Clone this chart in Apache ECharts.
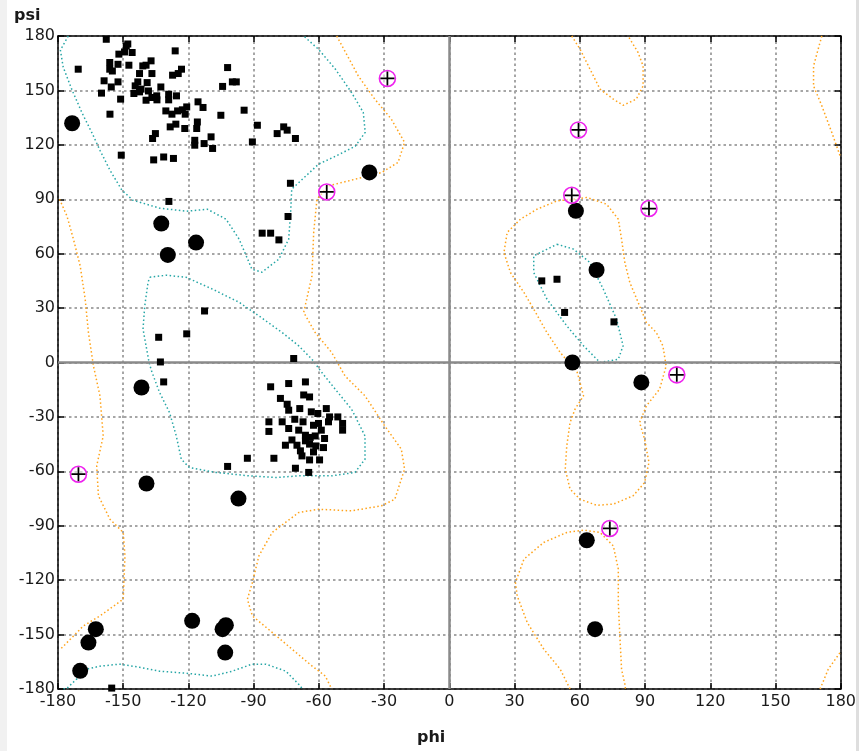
<!DOCTYPE html>
<html>
<head>
<meta charset="utf-8">
<script src="https://cdn.jsdelivr.net/npm/echarts@6/dist/echarts.min.js"></script>
<style>
  html, body { margin: 0; padding: 0; background: #fff; }
  #chart { width: 859px; height: 751px; }
</style>
</head>
<body>
<div id="chart"></div>
<script>
// axis ticks
const phiTicks = [-180, -150, -120, -90, -60, -30, 0, 30, 60, 90, 120, 150, 180];
const psiTicks = [-180, -150, -120, -90, -60, -30, 0, 30, 60, 90, 120, 150, 180];

// general residues (squares), [phi, psi]
const generalPts = [
  [-157.8, 178.2], [-148.6, 174.5], [-147.9, 175.6], [-152, 170], [-149.4, 171.2], [-145.9, 170.9],
  [-126.1, 171.8], [-170.7, 161.7], [-156.2, 165.4], [-156.2, 161.7], [-152.4, 164.4], [-147.4, 163.9],
  [-141, 163.5], [-139.5, 163.9], [-137.2, 166.3], [-142.5, 159.3], [-136.8, 159.3], [-155, 160.7],
  [-158.8, 155.3], [-152.4, 154.7], [-155.5, 151.9], [-160, 148.5], [-143.3, 154.7], [-139, 154.3],
  [-144.5, 152.5], [-141.8, 150.7], [-145.1, 148.3], [-142.5, 149.2], [-138.4, 149.7], [-132.7, 151.9],
  [-151.2, 145.2], [-139.5, 144.6], [-136.8, 146.1], [-134.6, 147], [-134.5, 144.8], [-129.1, 147.9],
  [-129.1, 144.8], [-125.5, 147], [-123.2, 161.7], [-127.3, 158.4], [-124.7, 159.3], [-115.6, 143.7],
  [-113.3, 140.6], [-130.4, 138.7], [-127.6, 136.9], [-125, 138.7], [-122.8, 139.3], [-120.8, 140.9],
  [-121.5, 136.9], [-128.4, 129.9], [-125.8, 131.4], [-121.7, 129], [-115.9, 132.6], [-116.2, 129],
  [-135.2, 126.2], [-136.5, 123.5], [-117.1, 122.5], [-112.8, 120.7], [-117.1, 119.8], [-150.9, 114.3],
  [-136, 111.7], [-131.4, 113.3], [-126.9, 112.5], [-156.1, 136.9], [-102, 162.6],
  [-104.3, 152.2], [-99.8, 154.7], [-98, 154.7], [-105.1, 136.3], [-94.4, 139.1], [-88.3, 130.8],
  [-79.2, 126.2], [-76.2, 129.9], [-74.6, 128.1], [-70.8, 123.5], [-90.6, 121.6], [-109.6, 124.4],
  [-108.9, 118], [-73.1, 98.8], [-129, 88.8], [-74.2, 80.5], [-86.1, 71.3], [-82.2, 71.3], [-78.4, 67.6],
  [-112.6, 28.4], [-133.7, 13.9], [-120.8, 15.8], [-132.9, 0.3], [-71.6, 2.2], [-131.4, -10.7],
  [-82.2, -13.4], [-73.9, -11.6], [-66.2, -10.7], [-67, -17.9], [-64.3, -19], [-77.7, -19.8],
  [-74.6, -23], [-73.9, -26.3], [-68.8, -25.4], [-63.5, -27.2], [-60.5, -28.1], [-56.6, -25.4],
  [-55.1, -30], [-51.3, -30], [-55.6, -32.7], [-49.1, -33.6], [-49.1, -37.3], [-83, -32.7],
  [-76.9, -32.7], [-71.1, -31.3], [-67.3, -32.7], [-83, -38], [-73.9, -36.4], [-69.3, -37.3],
  [-62.5, -34.6], [-60.2, -33.6], [-58.9, -37.3], [-66.2, -40.1], [-64, -41.3], [-61.7, -40.5],
  [-72.4, -42.7], [-66.2, -43.2], [-57.4, -41.9], [-75.4, -45.6], [-70.1, -45.6], [-64.3, -45],
  [-61.4, -46], [-57.9, -46.9], [-68.5, -48.7], [-67.8, -51.5], [-62.5, -49.3], [-92.9, -52.8],
  [-80.7, -52.8], [-64.3, -53.7], [-59.7, -53.7], [-70.8, -58.3], [-64.7, -60.6], [-102, -57.3],
  [-155.3, -179.5],
  [42.5, 45], [49.5, 45.9], [53, 27.6], [75.7, 22.4]
];

// glycine residues (large circles)
const glycinePts = [
  [-173.5, 131.9], [-36.8, 104.8], [-132.5, 76.6], [-116.5, 66.1], [-129.5, 59.3],
  [-141.6, -13.8], [-139.3, -66.7], [-97, -75], [-118.3, -142.4], [-104.3, -147],
  [-102.8, -144.8], [-103.1, -159.9], [-162.6, -147], [-166, -154.4], [-169.8, -170],
  [58.2, 83.6], [67.7, 51], [56.6, 0], [88.3, -11], [63.2, -98], [67, -147]
];

// outliers (magenta ring with cross)
const outlierPts = [
  [-28.5, 156.6], [-56.4, 94], [59.4, 128.2], [56.3, 92.2], [91.8, 84.9],
  [104.6, -6.8], [73.8, -91.5], [-170.6, -61.6]
];

// favoured region contours
const favBetaTop = [
  [-175.3, 180], [-178.9, 172.2], [-177.6, 162.8], [-173.5, 150.1], [-168.9, 137.5], [-164.3, 126.4],
  [-160.7, 117], [-156.1, 106], [-150.6, 95], [-145.6, 89.5], [-133.3, 85.1], [-120.9, 83.4],
  [-111.3, 84.5], [-102.7, 79], [-96.7, 68], [-90.8, 51.4], [-86.2, 49.8], [-78.4, 57],
  [-73.9, 68], [-73, 82.9], [-72.5, 95.6], [-66.1, 102.7], [-60.2, 109.3], [-52.4, 113.7],
  [-43.3, 119.2], [-38.7, 126.9], [-39.6, 137.9], [-45.1, 149], [-52.4, 161.7], [-60.2, 172.7], [-67, 180]
];
const favBetaBottom = [
  [-177.5, -180], [-175.7, -179.4], [-166.6, -169], [-160.7, -167.4], [-151.6, -166.3], [-142.5, -168],
  [-133.3, -170.2], [-120.9, -171.3], [-109.1, -172.9], [-99.9, -170.2], [-90.8, -166.3],
  [-84.4, -166.3], [-75.2, -170.2], [-69.3, -177.4], [-67.5, -180]
];
const favAlpha = [
  [-137.8, 47], [-130.2, 48.1], [-121.1, 47], [-108.9, 40.4], [-96.7, 33.2], [-87.6, 25.7],
  [-76.9, 16.5], [-69.3, 9.2], [-63.2, 1.8], [-58.8, -5.3], [-52.5, -14.7], [-45, -25.7],
  [-38.8, -40.5], [-38.8, -53.3], [-43.4, -60.6], [-54.1, -62.5], [-69.3, -62.5], [-79.9, -63.4],
  [-92.1, -62.5], [-107.4, -60.6], [-119.6, -57.9], [-123.3, -53.3], [-125.6, -40.5], [-128.7, -27.6],
  [-133.3, -16.5], [-137, -4.6], [-138.1, 0], [-140.9, 18.4], [-140.1, 31.2], [-138.6, 44.1], [-137.8, 47]
];
const favLeftHelix = [
  [49.5, 65.2], [57.1, 62.5], [64.7, 55.1], [70.8, 40.4], [76.9, 23.9], [79.9, 9.2], [77.7, 1.8],
  [69.3, 0], [61.7, 9.2], [54, 20.2], [44.9, 34.9], [38.8, 49.6], [38.8, 58.8], [49.5, 65.2]
];

// allowed region contours
const allowLeftEdge = [
  [-179.3, 90], [-175.9, 80.8], [-172.9, 68], [-169.8, 53.3], [-167.5, 34.9], [-166, 16.5],
  [-163.7, -1.9], [-160.7, -18.4], [-159.2, -40.5], [-162.2, -57], [-161.4, -73.5], [-156.1, -86.4],
  [-150, -93.7], [-149.2, -106.6], [-150, -130.5], [-160.7, -139.7], [-168.3, -145.2], [-178.9, -158.1]
];
const allowRightEdgeTop = [
  [171.3, 180], [167.5, 163.5], [167.5, 152.5], [171.3, 141.5], [175.9, 126.8], [179.7, 113.9]
];
const allowRightEdgeBottom = [
  [170.5, -180], [174.3, -169], [179.7, -159.9]
];
const allowMid = [
  [-51.8, 180], [-41.9, 158], [-34.3, 145.2], [-26.7, 134.2], [-20.6, 121.3], [-23.6, 110.3],
  [-31.2, 104.7], [-37.3, 102.9], [-46.5, 100.1], [-55.6, 97.4], [-60.9, 90], [-62.4, 71.7],
  [-63.2, 47.7], [-67, 27.6], [-61.7, 16.5], [-54.1, 5.5], [-48, -7.4], [-38.8, -18.4],
  [-29.7, -35], [-22.1, -47.8], [-20.6, -58.8], [-25.1, -75.4], [-31.2, -79], [-45, -81.8],
  [-60.2, -80.9], [-69.3, -82.7], [-81.5, -93.7], [-87.6, -106.6], [-90.6, -121.3], [-92.9, -130.5],
  [-90.6, -139.7], [-81.5, -148.8], [-72.4, -158], [-63.2, -167.3], [-57.1, -172.8], [-54.1, -180]
];
const allowTopBlob = [
  [56.3, 180], [60.1, 172.7], [64.7, 161.7], [69.3, 150.7], [75.4, 145.2], [79.9, 141.8],
  [86, 145.2], [89.1, 152.5], [89.1, 163.5], [86.8, 170.9], [82.2, 180]
];
const allowBottomBlob = [
  [55.5, -180], [54.8, -178.3], [51, -169.1], [43.4, -158], [35.8, -143.3], [31.2, -128.7],
  [30.4, -121.3], [34.3, -108.4], [43.4, -99.2], [54, -93.7], [61.7, -92.4], [69.3, -93.7],
  [75.4, -101.1], [77.7, -113.9], [77.7, -132.3], [78.4, -150.7], [79.2, -169.1], [80.7, -177.3], [81, -180]
];
const allowLeftHelix = [
  [57.1, 90], [63.2, 91], [72.3, 87.3], [77.7, 79], [79.2, 68], [80.7, 55.1], [83, 44.1],
  [87.5, 31.2], [90.6, 22.1], [95.2, 16.5], [98.2, 9.2], [99.7, -1.9], [96.7, -14.7], [90.6, -23.9],
  [87.5, -33.1], [89.8, -42.3], [91.8, -55.1], [89.8, -66.2], [84.5, -73.5], [75.4, -78.1],
  [67.7, -78.7], [60.1, -75.4], [55.5, -69.8], [53.3, -58.8], [54, -46], [55.5, -33.1],
  [57.8, -25.7], [61.7, -18.4], [60.1, -11], [58.6, -4.6], [56.3, -1.9], [51, 5.5], [44.9, 16.5],
  [38.8, 29.4], [34.3, 38.6], [28.1, 49.6], [25.1, 60.6], [26.6, 71.7], [32.7, 79], [40.3, 84.5],
  [49.5, 89.1], [57.1, 90]
];

const favColor = "#26a6a6";
const allowColor = "#ffa31a";

const chart = echarts.init(document.getElementById("chart"));

function contour(data, color) {
  return {
    type: "line",
    data: data,
    showSymbol: false,
    smooth: false,
    silent: true,
    z: 2,
    lineStyle: { color: color, width: 1.5, type: [1.5, 2.5] },
  };
}

const tickLabel = { fontSize: 16, color: "#1a1a1a", fontFamily: "DejaVu Sans" };
const gridLine = { show: true, lineStyle: { color: "#a6a6a6", width: 2, type: [2.5, 3] } };

function valueAxis(pos, showLabel, withGrid) {
  return {
    type: "value",
    position: pos,
    min: phiTicks[0],
    max: phiTicks[phiTicks.length - 1],
    interval: 30,
    axisLine: { show: true, onZero: false, lineStyle: { color: "#000", width: 1.5 } },
    axisTick: { show: true, inside: true, length: 6, lineStyle: { color: "#000", width: 1.5 } },
    axisLabel: Object.assign({ show: showLabel, margin: 5, hideOverlap: false }, tickLabel),
    splitLine: withGrid ? gridLine : { show: false },
  };
}

const xBottom = valueAxis("bottom", true, true);
xBottom.axisLabel.margin = 5;
const yLeft = valueAxis("left", true, true);
yLeft.min = psiTicks[0];
yLeft.max = psiTicks[psiTicks.length - 1];
yLeft.axisLabel.margin = 3;

chart.setOption({
  animation: false,
  backgroundColor: "#fff",
  grid: { left: 58, right: 13, top: 36, bottom: 62, containLabel: false },
  xAxis: [xBottom, valueAxis("top", false, false)],
  yAxis: [yLeft, valueAxis("right", false, false)],
  graphic: [
    { type: "rect", shape: { x: 0, y: 0, width: 7, height: 751 }, style: { fill: "#f1f1f1" }, z: 100 },
    { type: "rect", shape: { x: 856, y: 0, width: 3, height: 751 }, style: { fill: "#dedede" }, z: 100 },
    { type: "text", left: 14, top: 8, style: { text: "psi", font: "bold 16px DejaVu Sans", fill: "#1a1a1a" } },
    { type: "text", left: 417, top: 730, style: { text: "phi", font: "bold 16px DejaVu Sans", fill: "#1a1a1a" } },
  ],
  series: [
    {
      type: "line",
      data: [],
      silent: true,
      markLine: {
        silent: true,
        symbol: "none",
        label: { show: false },
        lineStyle: { color: "#8a8a8a", width: 2.5, type: "solid" },
        data: [{ xAxis: 0 }, { yAxis: 0 }],
      },
      z: 1,
    },
    contour(favBetaTop, favColor),
    contour(favBetaBottom, favColor),
    contour(favAlpha, favColor),
    contour(favLeftHelix, favColor),
    contour(allowLeftEdge, allowColor),
    contour(allowRightEdgeTop, allowColor),
    contour(allowRightEdgeBottom, allowColor),
    contour(allowMid, allowColor),
    contour(allowTopBlob, allowColor),
    contour(allowBottomBlob, allowColor),
    contour(allowLeftHelix, allowColor),
    {
      type: "scatter",
      data: generalPts,
      symbol: "rect",
      symbolSize: 7,
      itemStyle: { color: "#000", opacity: 1 },
      z: 5,
    },
    {
      type: "scatter",
      data: glycinePts,
      symbol: "circle",
      symbolSize: 16,
      itemStyle: { color: "#000", opacity: 1 },
      z: 5,
    },
    {
      type: "scatter",
      data: outlierPts,
      symbol: "circle",
      symbolSize: 16,
      itemStyle: { color: "rgba(255,255,255,0.5)", borderColor: "#ee22ee", borderWidth: 1.6, opacity: 1 },
      z: 6,
    },
    {
      type: "scatter",
      data: outlierPts,
      symbol: "path://M0,7H16V9H0Z M7,0H9V16H7Z",
      symbolSize: 14,
      itemStyle: { color: "#000", opacity: 1 },
      z: 7,
    },
  ],
});
</script>
</body>
</html>
